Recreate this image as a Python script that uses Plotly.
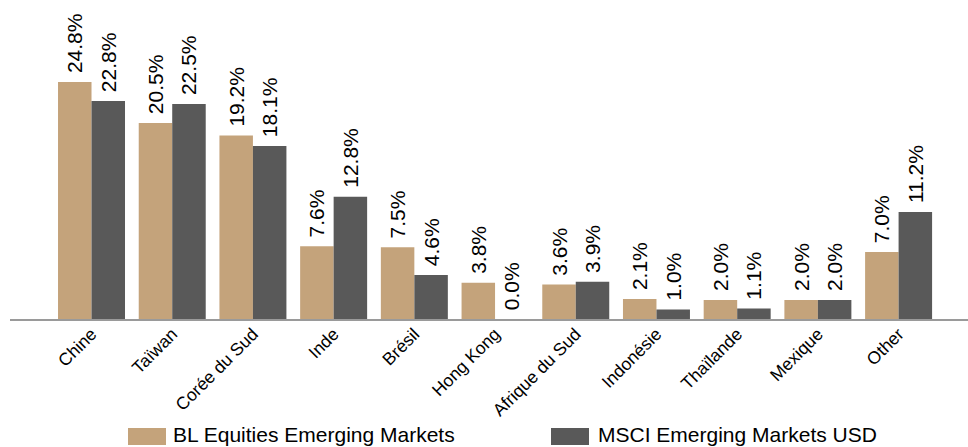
import plotly.graph_objects as go

# Country allocation: fund vs. benchmark (% of portfolio)
countries = ["Chine", "Taïwan", "Corée du Sud", "Inde", "Brésil", "Hong Kong",
             "Afrique du Sud", "Indonésie", "Thaïlande", "Mexique", "Other"]
bl_values = [24.8, 20.5, 19.2, 7.6, 7.5, 3.8, 3.6, 2.1, 2.0, 2.0, 7.0]
msci_values = [22.8, 22.5, 18.1, 12.8, 4.6, 0.0, 3.9, 1.0, 1.1, 2.0, 11.2]
series_names = ["BL Equities Emerging Markets", "MSCI Emerging Markets USD"]
series_colors = ["#C4A37B", "#595959"]

W, H = 968, 447
ML, MR, MT, MB = 10, 0, 0, 128
FONT = "Liberation Sans, Arial, sans-serif"

fig = go.Figure()
for name, vals, color in zip(series_names, [bl_values, msci_values], series_colors):
    fig.add_trace(go.Bar(
        x=countries, y=vals, name=name,
        marker=dict(color=color, line=dict(width=0)),
        text=[f"\u00a0{v:.1f}%" for v in vals],
        textposition="outside", textangle=-90,
        textfont=dict(family=FONT, size=21, color="#000000"),
        constraintext="none", cliponaxis=False,
        showlegend=False,
    ))

fig.update_layout(
    width=W, height=H,
    margin=dict(l=ML, r=MR, t=MT, b=MB),
    paper_bgcolor="white", plot_bgcolor="white",
    barmode="group", bargap=0.17, bargroupgap=0,
    font=dict(family=FONT, color="#000000"),
    xaxis=dict(
        range=[-1.01, 10.86],
        showline=True, linecolor="#9A9A9A", linewidth=2,
        ticks="", tickangle=-45, ticklabelstandoff=-4,
        tickfont=dict(family=FONT, size=17.5, color="#000000"),
        showgrid=False, zeroline=False,
    ),
    yaxis=dict(range=[0, 33.37], visible=False, showgrid=False, zeroline=False),
)

# Legend drawn below the chart with wide colour swatches
plot_w = W - ML - MR
plot_h = H - MT - MB


def px_x(px):
    return (px - ML) / plot_w


def px_y(py):
    return (H - MB - py) / plot_h


legend_items = [(128, 166, 171), (551, 589, 596)]
for (sx0, sx1, tx), name, color in zip(legend_items, series_names, series_colors):
    fig.add_shape(type="rect", xref="paper", yref="paper",
                  x0=px_x(sx0), x1=px_x(sx1), y0=px_y(445), y1=px_y(428),
                  fillcolor=color, line=dict(width=0))
    fig.add_annotation(xref="paper", yref="paper", x=px_x(tx), y=px_y(434),
                       xanchor="left", yanchor="middle", showarrow=False,
                       text=name, font=dict(family=FONT, size=21, color="#000000"))

fig.write_html("out.html")
